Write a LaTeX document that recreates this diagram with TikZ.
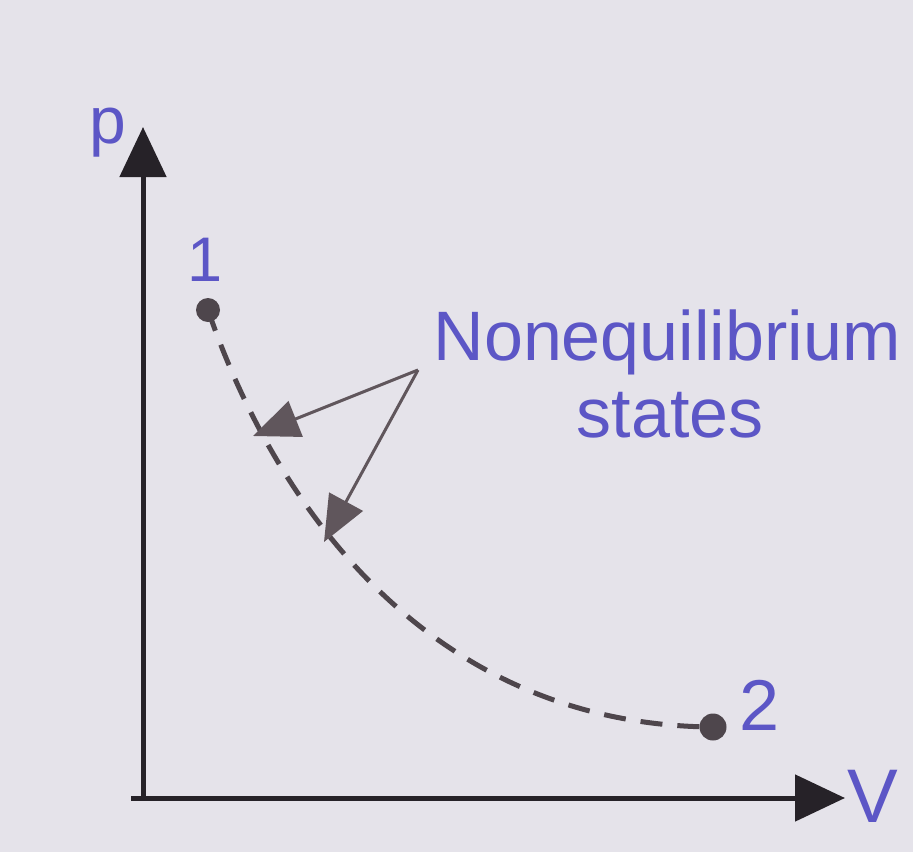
\documentclass[tikz,border=0pt]{standalone}
\usepackage{fontspec}
\setmainfont{Liberation Sans}
\usetikzlibrary{arrows.meta}
\definecolor{paper}{RGB}{229,227,234}
\definecolor{lblue}{RGB}{92,86,198}
\definecolor{axisc}{RGB}{38,34,40}
\definecolor{arrc}{RGB}{96,86,92}
\definecolor{curvec}{RGB}{78,70,76}
\tikzset{
  axis/.style={draw=axisc, line width=5pt, -{Triangle[length=50pt,width=46pt]}},
  pointer/.style={draw=arrc, line width=3pt, -{Triangle[length=46pt,width=38pt]}},
  dot/.style={circle, fill=curvec, inner sep=0pt, minimum size=#1},
  lbl/.style={text=lblue, inner sep=0pt},
  path/.style={draw=curvec, line width=5pt, dash pattern=on 22pt off 15pt}
}
\begin{document}
\begin{tikzpicture}[x=1pt,y=-1pt]
\fill[paper] (0,0) rectangle (913,852);
\useasboundingbox (0,0) rectangle (913,852);
% axes
\coordinate (O) at (143,798);
\coordinate (pend) at (143,127);
\coordinate (vend) at (845,798);
\draw[axis] (143,800) -- (pend);
\draw[axis] (131,798) -- (vend);
\node[lbl, font=\fontsize{66}{70}\selectfont] (plbl) at (108,133) {p};
\node[lbl, font=\fontsize{76}{80}\selectfont] (vlbl) at (873,796) {V};
% states
\node[dot=24pt] (s1) at (208,310) {};
\node[dot=27pt] (s2) at (713,727) {};
\node[lbl, font=\fontsize{63}{66}\selectfont] (n1) at (205,260) {1};
\node[lbl, font=\fontsize{72}{76}\selectfont] (n2) at (760,705) {2};
\draw[path] (s1.center) .. controls (280,520) and (440,725) .. (s2.center);
% label and pointers
\node[lbl, anchor=base, font=\fontsize{70}{77}\selectfont] (t1) at (667,360) {Nonequilibrium};
\node[lbl, anchor=base, font=\fontsize{70}{77}\selectfont] (t2) at (670,437) {states};
\coordinate (src) at (418,370);
\coordinate (a1) at (253,436);
\coordinate (a2) at (324,542);
\draw[pointer] (src) -- (a1);
\draw[pointer] (src) -- (a2);
\end{tikzpicture}
\end{document}
